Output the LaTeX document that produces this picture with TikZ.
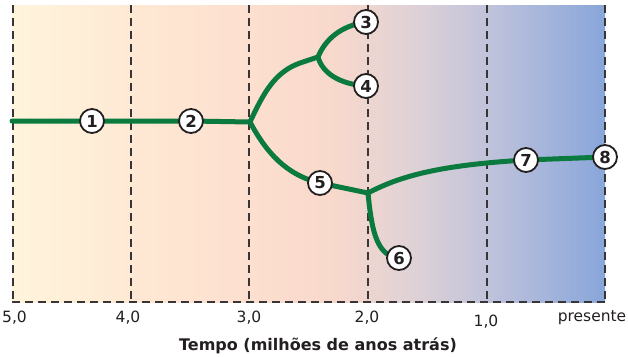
\documentclass[tikz,border=0pt]{standalone}
\usepackage{fontspec}
\setmainfont{DejaVu Sans}
\pgfdeclarelayer{bg}
\pgfsetlayers{bg,main}
\definecolor{cA}{HTML}{FFF4DC}
\definecolor{cB}{HTML}{FEE7D3}
\definecolor{cC}{HTML}{FDDFCF}
\definecolor{cD}{HTML}{F7D8CC}
\definecolor{cE}{HTML}{DCD1D7}
\definecolor{cF}{HTML}{BBC0DB}
\definecolor{cG}{HTML}{88A6DA}
\definecolor{tree}{HTML}{0B7A3E}
\definecolor{ink}{HTML}{231F20}
\tikzset{
  num/.style={circle,draw=ink,line width=1.8pt,fill=white,minimum size=24pt,inner sep=0pt,font=\bfseries\fontsize{16.5}{16.5}\selectfont,text=ink},
  branch/.style={draw=tree,line width=5pt,line cap=round,line join=round},
  grid/.style={draw=ink!90,line width=1.7pt,dash pattern=on 8pt off 5pt},
  axlab/.style={font=\fontsize{15.5}{15.5}\selectfont,text=ink}
}
\begin{document}
\begin{tikzpicture}[x=1pt,y=-1pt]
\useasboundingbox (0,0) rectangle (628,356);
% coordinates
\coordinate (s) at (12,121);
\coordinate (j1) at (250,122);
\coordinate (j2) at (318,57);
\coordinate (j3) at (368,193);
\coordinate (k) at (300,63);
% nodes
\node[num] (n1) at (92,121) {1};
\node[num] (n2) at (191,121) {2};
\node[num] (n3) at (366,22) {3};
\node[num] (n4) at (366,86) {4};
\node[num] (n5) at (320,183) {5};
\node[num] (n6) at (399,258) {6};
\node[num] (n7) at (526,160) {7};
\node[num] (n8) at (605,157) {8};
\begin{pgfonlayer}{bg}
\shade[left color=cA,right color=cB] (12,5) rectangle (150,302);
\shade[left color=cB,right color=cC] (149.5,5) rectangle (250,302);
\shade[left color=cC,right color=cD] (249.5,5) rectangle (340,302);
\shade[left color=cD,right color=cE] (339.5,5) rectangle (420,302);
\shade[left color=cE,right color=cF] (419.5,5) rectangle (500,302);
\shade[left color=cF,right color=cG] (499.5,5) rectangle (605,302);
\foreach \x in {13,131,249,368,487,605} {\draw[grid] (\x,5) -- (\x,302);}
\draw[grid] (12,302) -- (605,302);
\draw[branch] (s) -- (n1.center) -- (n2.center) -- (j1);
\draw[branch] (j1) .. controls (264,92) and (275,72) .. (k) -- (j2);
\draw[branch] (j2) .. controls (325,40) and (340,26) .. (n3.center);
\draw[branch] (j2) .. controls (322,72) and (338,84) .. (n4.center);
\draw[branch] (j1) .. controls (266,152) and (286,175) .. (n5.center);
\draw[branch] (n5.center) -- (j3);
\draw[branch] (j3) .. controls (372,235) and (378,256) .. (n6.center);
\draw[branch] (j3) .. controls (400,176) and (440,165) .. (n7.center);
\draw[branch] (n7.center) -- (n8.center);
\end{pgfonlayer}
% axis labels
\node[axlab,anchor=west,inner sep=0pt] (l5) at (2,318) {5,0};
\node[axlab] (l4) at (128,318) {4,0};
\node[axlab] (l3) at (249,318) {3,0};
\node[axlab] (l2) at (367,318) {2,0};
\node[axlab] (l1) at (486,322) {1,0};
\node[axlab] (lp) at (592,318) {presente};
\node[font=\bfseries\fontsize{16}{16}\selectfont,text=ink] (title) at (318,346) {Tempo (milhões de anos atrás)};
\end{tikzpicture}
\end{document}
